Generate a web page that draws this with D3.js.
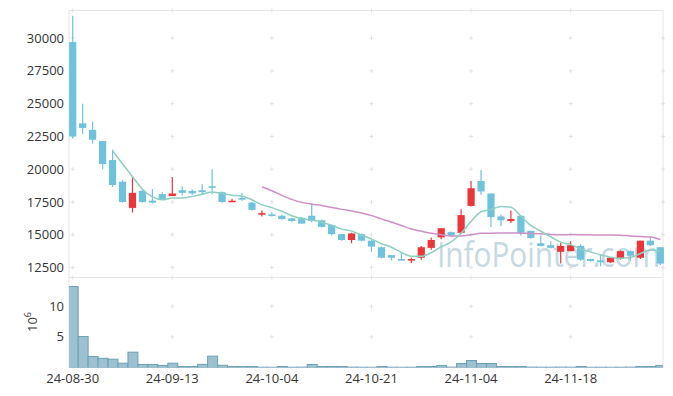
<!DOCTYPE html>
<html>
<head>
<meta charset="utf-8">
<script src="https://cdn.jsdelivr.net/npm/d3@7"></script>
<style>
  body { margin: 0; background: #fff; }
  svg { display: block; font-family: "Open Sans", "Noto Sans", sans-serif; }
</style>
</head>
<body>
<svg id="svg" width="673" height="396"></svg>
<script>
// trading days, 2024-08-30 .. 2024-11-29
var dates = ['24-08-30','24-09-02','24-09-03','24-09-04','24-09-05','24-09-06','24-09-09','24-09-10','24-09-11','24-09-12',
  '24-09-13','24-09-19','24-09-20','24-09-23','24-09-24','24-09-25','24-09-26','24-09-27','24-09-30','24-10-02',
  '24-10-04','24-10-07','24-10-08','24-10-10','24-10-11','24-10-14','24-10-15','24-10-16','24-10-17','24-10-18',
  '24-10-21','24-10-22','24-10-23','24-10-24','24-10-25','24-10-28','24-10-29','24-10-30','24-10-31','24-11-01',
  '24-11-04','24-11-05','24-11-06','24-11-07','24-11-08','24-11-11','24-11-12','24-11-13','24-11-14','24-11-15',
  '24-11-18','24-11-19','24-11-20','24-11-21','24-11-22','24-11-25','24-11-26','24-11-27','24-11-28','24-11-29'];

var openP = [29700,23500,23000,22150,20700,19050,17050,18350,17600,18100,
  17950,18400,18350,18400,18700,18250,17550,17800,17450,16600,
  16550,16450,16250,16300,16450,16100,15750,15050,14600,15050,
  14550,14050,13450,13150,13100,13250,14000,14800,15200,15150,
  17200,19100,18150,16400,16050,16450,15300,14350,14200,13700,
  13750,14150,13150,13050,12900,13150,13750,13250,14550,14050];

var closeP = [22500,23150,22250,20400,18800,17500,18200,17500,17450,17700,
  18150,18200,18150,18250,18600,17500,17600,17750,16900,16650,
  16450,16200,16050,15850,16050,15600,15050,14600,15100,14550,
  14100,13250,13250,13100,13150,14050,14600,15500,14950,16500,
  18550,18300,16350,16100,16200,15150,14750,14150,14000,14150,
  14200,13100,13000,12900,13250,13750,13400,14550,14200,12800];

var highP = [31700,25000,23650,22150,21500,19200,19500,18400,18500,18250,
  19400,18700,18450,18850,20000,18300,17750,18200,17500,16850,
  16700,16500,16300,16350,17400,16150,15750,15050,15150,15100,
  14600,14100,13450,13600,13250,14150,14800,15500,15250,16950,
  19100,19950,18150,16550,16850,16450,15300,14950,14500,14400,
  14500,14250,13150,13500,13300,13800,13800,14550,14800,14050];

var lowP = [22350,22700,21950,20000,18650,17450,16700,17450,17400,17650,
  17950,18000,18050,18100,18100,17450,17550,17600,16850,16400,
  16400,16150,16000,15850,15950,15550,14950,14550,14350,14500,
  13700,13200,13050,13050,12850,13100,13850,14650,14900,15100,
  17150,18050,15600,15650,15900,14950,14700,14100,13950,12800,
  13750,13000,12950,12600,12850,13100,13050,13150,14150,12700];

// volume, millions of shares
var volume = [13.2,5.05,1.8,1.5,1.35,0.7,2.5,0.5,0.5,0.33,
  0.7,0.16,0.16,0.52,1.85,0.36,0.16,0.16,0.16,0.05,
  0.04,0.16,0.05,0.06,0.5,0.16,0.16,0.16,0.06,0.05,
  0.04,0.16,0.05,0.04,0.05,0.16,0.16,0.33,0.06,0.65,
  1.14,0.65,0.65,0.16,0.16,0.16,0.06,0.05,0.05,0.06,
  0.05,0.16,0.04,0.05,0.04,0.05,0.06,0.16,0.16,0.33];

var xTickLabels = ['24-08-30','24-09-13','24-10-04','24-10-21','24-11-04','24-11-18'];
var priceTicks = [12500,15000,17500,20000,22500,25000,27500,30000];
var volTicks = [5,10];

var svg = d3.select('svg');

var left = 69, right = 663;
var priceTop = 10.5, priceBottom = 277.5, volBottom = 367.5;

var x = d3.scalePoint()
    .domain(dates)
    .range([72.7, 660.3]);

var y = d3.scaleLinear()
    .domain([11740, 32110])
    .range([priceBottom, priceTop]);

var yv = d3.scaleLinear()
    .domain([0, 14.68])
    .range([volBottom, priceBottom]);

var rows = dates.map(function(d, i){
    return {date: d, o: openP[i], c: closeP[i], h: highP[i], l: lowP[i], v: volume[i]};
});

// moving averages of close
function movingAvg(n){
    return rows.map(function(d, i){
        if (i < n - 1) return null;
        return {date: d.date, v: d3.mean(closeP.slice(i - n + 1, i + 1))};
    }).filter(function(d){ return d; });
}
var ma5 = movingAvg(5);
var ma20 = movingAvg(20);

svg.append('clipPath')
    .attr('id', 'volClip')
    .append('rect')
    .attr('x', left).attr('y', priceBottom)
    .attr('width', right - left).attr('height', volBottom - priceBottom);

// frame
svg.append('rect')
    .attr('x', left).attr('y', priceTop)
    .attr('width', right - left).attr('height', volBottom - priceTop)
    .attr('fill', 'none').attr('stroke', '#e6e6e6');
svg.append('line')
    .attr('x1', left).attr('x2', right)
    .attr('y1', priceBottom).attr('y2', priceBottom)
    .attr('stroke', '#e6e6e6');

// watermark
svg.append('text')
    .attr('x', 437).attr('y', 267)
    .attr('font-size', 34)
    .attr('textLength', 223)
    .attr('lengthAdjust', 'spacingAndGlyphs')
    .attr('fill', '#c6d9e3')
    .text('InfoPointer.com');

// grid "+" marks
var gridX = xTickLabels.map(function(d){ return x(d); });
var marks = [];
gridX.forEach(function(gx){
    priceTicks.forEach(function(t){ marks.push([gx, y(t)]); });
    volTicks.forEach(function(t){ marks.push([gx, yv(t)]); });
    marks.push([gx, priceTop]);
    marks.push([gx, priceBottom]);
});
priceTicks.forEach(function(t){ marks.push([right, y(t)]); });
svg.append('g').selectAll('path')
    .data(marks)
    .enter()
    .append('path')
    .attr('d', function(d){
        return 'M' + (d[0]-2) + ',' + d[1] + 'h4M' + d[0] + ',' + (d[1]-2) + 'v4';
    })
    .attr('stroke', '#e2e2e2')
    .attr('stroke-width', 1);

// volume bars
svg.append('g')
    .attr('clip-path', 'url(#volClip)')
    .selectAll('rect')
    .data(rows)
    .enter()
    .append('rect')
    .attr('x', function(d){ return x(d.date) - 4.5; })
    .attr('y', function(d){ return yv(d.v); })
    .attr('width', 9.96)
    .attr('height', function(d){ return yv(0) - yv(d.v); })
    .attr('fill', '#9dc1d1')
    .attr('stroke', '#6b9fb6')
    .attr('stroke-width', 1);

var upColor = '#ec3539', downColor = '#6ec2dc';
function col(d){ return d.c > d.o ? upColor : downColor; }

// candles
var candle = svg.append('g').selectAll('g')
    .data(rows)
    .enter()
    .append('g');

candle.append('line')
    .attr('x1', function(d){ return x(d.date); })
    .attr('x2', function(d){ return x(d.date); })
    .attr('y1', function(d){ return y(d.h); })
    .attr('y2', function(d){ return y(d.l); })
    .attr('stroke', col)
    .attr('stroke-width', 1.2);

candle.append('rect')
    .attr('x', function(d){ return x(d.date) - 3.6; })
    .attr('width', 7.2)
    .attr('y', function(d){ return y(Math.max(d.o, d.c)); })
    .attr('height', function(d){ return Math.max(1.6, Math.abs(y(d.o) - y(d.c))); })
    .attr('fill', col);

// moving average lines
var line = d3.line()
    .x(function(d){ return x(d.date); })
    .y(function(d){ return y(d.v); })
    .curve(d3.curveMonotoneX);

svg.append('path')
    .datum(ma20)
    .attr('d', line)
    .attr('fill', 'none')
    .attr('stroke', '#cc8fc6')
    .attr('stroke-width', 1.5);

svg.append('path')
    .datum(ma5)
    .attr('d', line)
    .attr('fill', 'none')
    .attr('stroke', '#8fcfc2')
    .attr('stroke-width', 1.5);

// axes labels
svg.append('g').selectAll('text')
    .data(priceTicks)
    .enter()
    .append('text')
    .attr('x', 64)
    .attr('y', function(d){ return y(d) + 4.5; })
    .attr('text-anchor', 'end')
    .attr('font-size', 13)
    .attr('fill', '#333')
    .text(function(d){ return d; });

svg.append('g').selectAll('text')
    .data(volTicks)
    .enter()
    .append('text')
    .attr('x', 64)
    .attr('y', function(d){ return yv(d) + 4.5; })
    .attr('text-anchor', 'end')
    .attr('font-size', 13)
    .attr('fill', '#333')
    .text(function(d){ return d; });

var unit = svg.append('text')
    .attr('transform', 'translate(37,322) rotate(-90)')
    .attr('text-anchor', 'middle')
    .attr('font-size', 13)
    .attr('fill', '#333');
unit.append('tspan').text('10');
unit.append('tspan').attr('dy', -6).attr('font-size', 9).text('6');

svg.append('g').selectAll('text')
    .data(xTickLabels)
    .enter()
    .append('text')
    .attr('x', function(d){ return x(d); })
    .attr('y', 383)
    .attr('text-anchor', 'middle')
    .attr('font-size', 13)
    .attr('fill', '#333')
    .text(function(d){ return d; });
</script>
</body>
</html>
